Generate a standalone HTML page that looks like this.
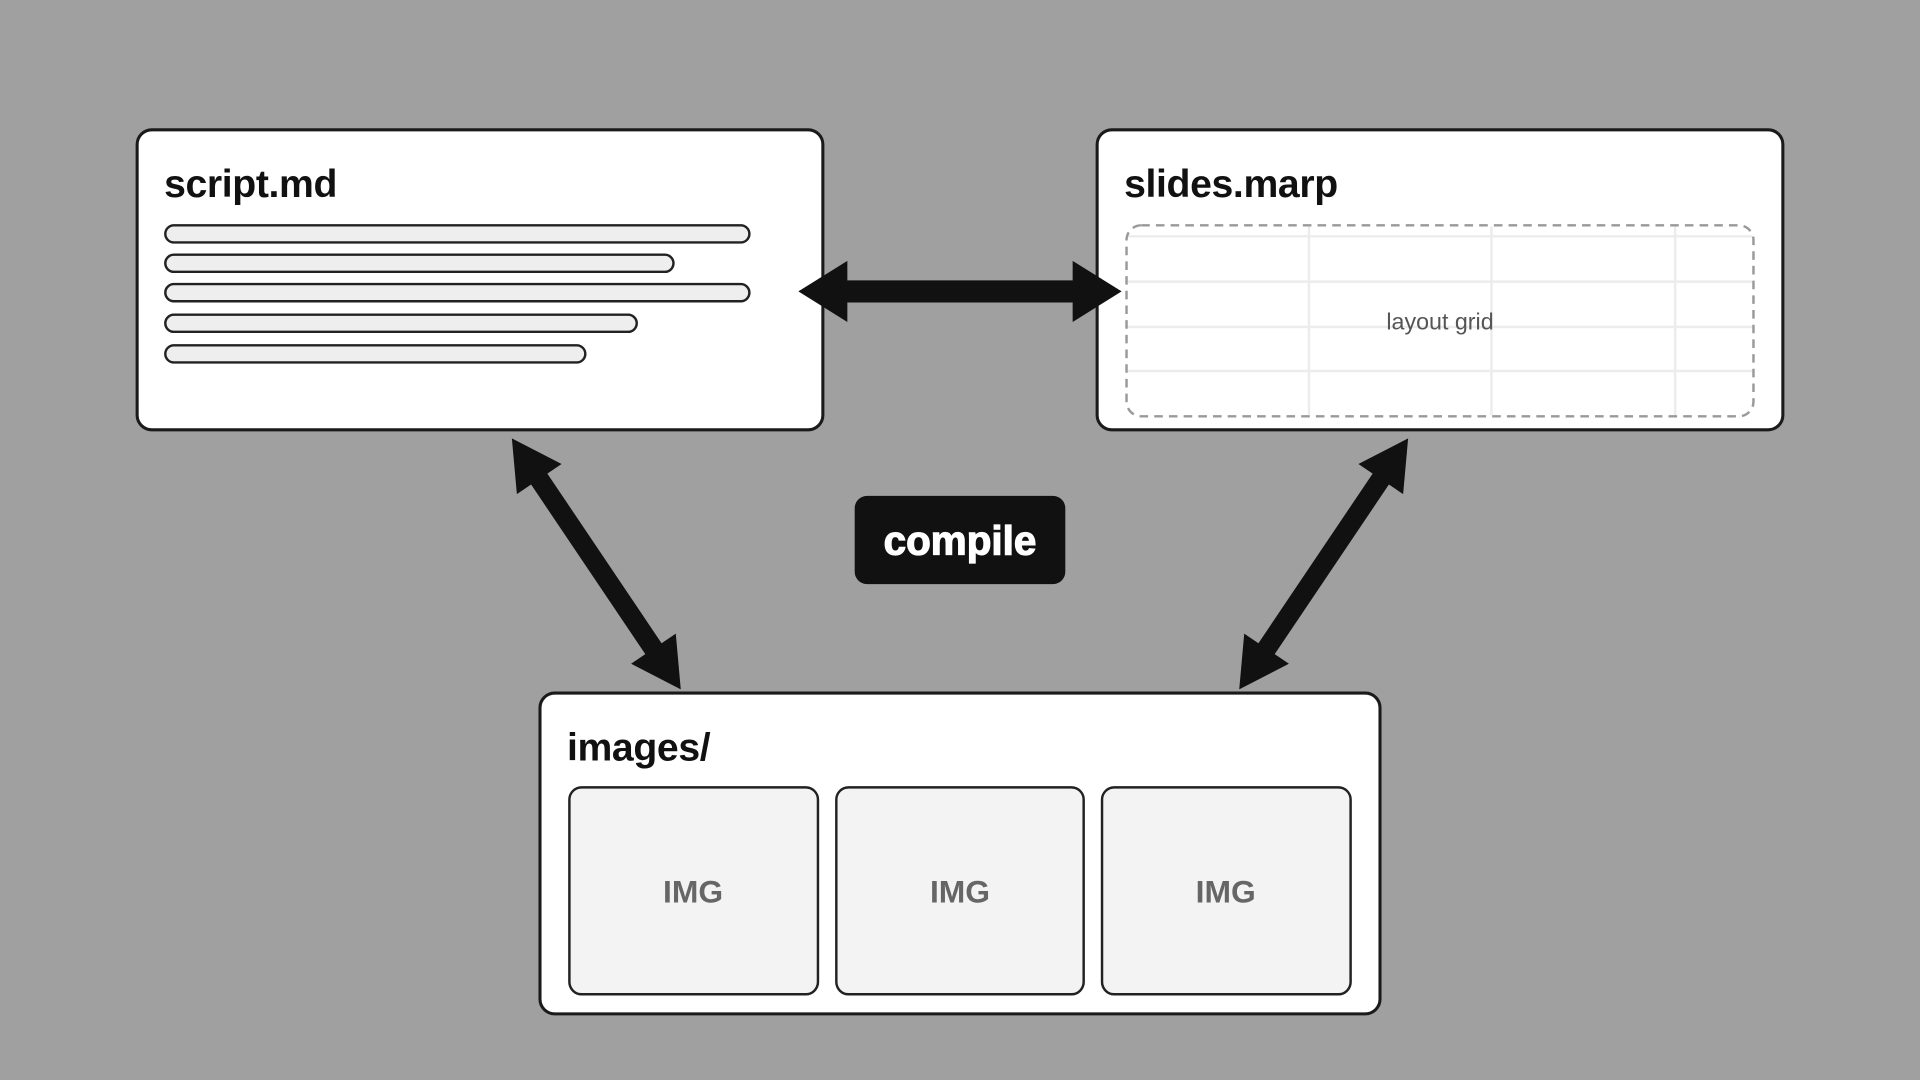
<!DOCTYPE html>
<html><head><meta charset="utf-8"><style>
html,body{margin:0;padding:0;background:#a0a0a0;}
svg{display:block;}
text{font-family:"Liberation Sans",sans-serif;}
</style></head><body>
<svg width="1920" height="1080" viewBox="0 0 1568 882" xmlns="http://www.w3.org/2000/svg">
<rect width="1568" height="882" fill="#a0a0a0"/>
<!-- script.md -->
<rect x="112" y="106" width="560" height="245" rx="12" fill="#fff" stroke="#1a1a1a" stroke-width="2.5"/>
<text x="134" y="161" font-size="32" font-weight="bold" fill="#111" letter-spacing="-0.3">script.md</text>
<g fill="#eeeeee" stroke="#222" stroke-width="2">
<rect x="135" y="184" width="477" height="14" rx="7"/>
<rect x="135" y="208" width="415" height="14" rx="7"/>
<rect x="135" y="232" width="477" height="14" rx="7"/>
<rect x="135" y="257" width="385" height="14" rx="7"/>
<rect x="135" y="282" width="343" height="14" rx="7"/>
</g>
<!-- slides.marp -->
<rect x="896" y="106" width="560" height="245" rx="12" fill="#fff" stroke="#1a1a1a" stroke-width="2.5"/>
<text x="918" y="161" font-size="32" font-weight="bold" fill="#111" letter-spacing="-0.3">slides.marp</text>
<g stroke="#ececec" stroke-width="2">
<line x1="921" y1="193" x2="1431" y2="193"/>
<line x1="921" y1="230" x2="1431" y2="230"/>
<line x1="921" y1="267" x2="1431" y2="267"/>
<line x1="921" y1="303" x2="1431" y2="303"/>
<line x1="1069" y1="185" x2="1069" y2="339"/>
<line x1="1218" y1="185" x2="1218" y2="339"/>
<line x1="1368" y1="185" x2="1368" y2="339"/>
</g>
<rect x="920" y="184" width="512" height="156" rx="12" fill="none" stroke="#999" stroke-width="2" stroke-dasharray="7,5"/>
<text x="1176" y="269" font-size="19" fill="#555" text-anchor="middle">layout grid</text>
<!-- images -->
<rect x="441" y="566" width="686" height="262" rx="12" fill="#fff" stroke="#1a1a1a" stroke-width="2.5"/>
<text x="463" y="621" font-size="32" font-weight="bold" fill="#111" letter-spacing="-0.3">images/</text>
<g fill="#f3f3f3" stroke="#222" stroke-width="2">
<rect x="465" y="643" width="203" height="169" rx="10"/>
<rect x="683" y="643" width="202" height="169" rx="10"/>
<rect x="900" y="643" width="203" height="169" rx="10"/>
</g>
<g font-size="26" font-weight="bold" fill="#666" text-anchor="middle">
<text x="566" y="737">IMG</text>
<text x="784" y="737">IMG</text>
<text x="1001" y="737">IMG</text>
</g>
<!-- compile -->
<rect x="698" y="405" width="172" height="72" rx="10" fill="#111"/>
<text x="784" y="453" font-size="33" font-weight="bold" fill="#fff" stroke="#fff" stroke-width="1" text-anchor="middle">compile</text>
<!-- arrows -->
<polygon fill="#111" transform="translate(784,238)" points="-132,0 -92,-25 -92,-9 92,-9 92,-25 132,0 92,25 92,9 -92,9 -92,25"/>
<polygon fill="#111" transform="translate(487,460.5) rotate(56.05)" points="-123.5,0 -83.5,-22 -83.5,-8 83.5,-8 83.5,-22 123.5,0 83.5,22 83.5,8 -83.5,8 -83.5,22"/>
<polygon fill="#111" transform="translate(1081,460.5) rotate(123.95)" points="-123.5,0 -83.5,-22 -83.5,-8 83.5,-8 83.5,-22 123.5,0 83.5,22 83.5,8 -83.5,8 -83.5,22"/>
</svg>
</body></html>
